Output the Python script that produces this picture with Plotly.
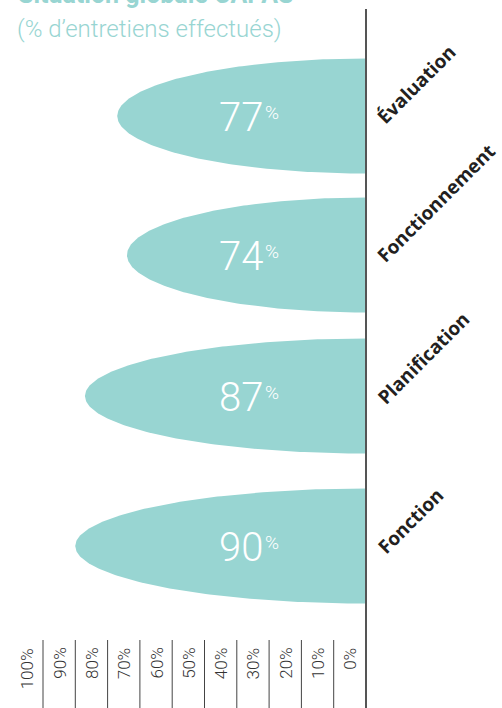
import numpy as np
import plotly.graph_objects as go

categories = ["Évaluation", "Fonctionnement", "Planification", "Fonction"]
values = [77, 74, 87, 90]
tick_values = [100, 90, 80, 70, 60, 50, 40, 30, 20, 10, 0]
tick_labels = ["100%", "90%", "80%", "70%", "60%", "50%", "40%", "30%", "20%", "10%", "0%"]
title_text = "Situation globale CAPAS"
subtitle_text = "(% d’entretiens effectués)"

W, H = 502, 708
TEAL = "#98d5d2"
X0_PX = 366.0          # pixel of 0 %
PX_PER_PCT = 3.23
ROW_CENTERS = [116.0, 255.0, 396.0, 546.0]   # layout: vertical centre of each row (px)
HALF_H = 57.5

xr = [X0_PX / PX_PER_PCT, -(W - X0_PX) / PX_PER_PCT]

fig = go.Figure()
t = np.linspace(-np.pi / 2, np.pi / 2, 200)
for i, (cat, v) in enumerate(zip(categories, values)):
    c = ROW_CENTERS[i]
    xs = list(v * np.cos(t)) + [0]
    ys = list(c + HALF_H * np.sin(t)) + [c - HALF_H]
    fig.add_trace(go.Scatter(x=xs, y=ys, mode="lines", fill="toself",
                             fillcolor=TEAL, line=dict(width=0, color=TEAL),
                             hoverinfo="skip", showlegend=False))

annotations = []
shapes = []
# axis line
shapes.append(dict(type="line", xref="x", yref="y", x0=0, x1=0, y0=9, y1=H,
                   line=dict(color="#555555", width=2)))
# separators
for tv in tick_values:
    if tv != 0:
        shapes.append(dict(type="line", xref="x", yref="y", x0=tv, x1=tv, y0=640, y1=H,
                           line=dict(color="#444444", width=1)))
# tick labels
for tv, tl in zip(tick_values, tick_labels):
    annotations.append(dict(x=tv + 5, y=646, xref="x", yref="y", text=tl, showarrow=False,
                            textangle=-90, xanchor="center", yanchor="top",
                            font=dict(family="Roboto", size=17, color="#333333", weight=300)))

for i, (cat, v) in enumerate(zip(categories, values)):
    c = ROW_CENTERS[i]
    annotations.append(dict(x=265 / W, y=c + 1, xref="paper", yref="y", text=str(v),
                            showarrow=False, xanchor="right", yanchor="middle",
                            font=dict(family="Roboto", size=40, color="white", weight=300)))
    annotations.append(dict(x=263 / W, y=c - 17, xref="paper", yref="y", text="%",
                            showarrow=False, xanchor="left", yanchor="top",
                            font=dict(family="Roboto", size=19, color="white", weight=300)))
    annotations.append(dict(x=369 / W, y=c + 16, xref="paper", yref="y", text=cat,
                            showarrow=False, textangle=-45, xanchor="left", yanchor="bottom",
                            font=dict(family="Open Sans", size=19, color="#231f20", weight="bold")))

annotations.append(dict(x=16 / W, y=1 - 11 / H, xref="paper", yref="paper", text=title_text,
                        showarrow=False, xanchor="left", yanchor="bottom",
                        font=dict(family="Roboto", size=25, color=TEAL, weight="bold")))
annotations.append(dict(x=15 / W, y=1 - 13 / H, xref="paper", yref="paper", text=subtitle_text,
                        showarrow=False, xanchor="left", yanchor="top",
                        font=dict(family="Roboto", size=24, color=TEAL, weight=300)))

fig.update_layout(
    width=W, height=H, margin=dict(l=0, r=0, t=0, b=0),
    paper_bgcolor="white", plot_bgcolor="white",
    xaxis=dict(range=xr, visible=False, fixedrange=True),
    yaxis=dict(range=[H, 0], visible=False, fixedrange=True),
    shapes=shapes, annotations=annotations, showlegend=False,
)
fig.write_html("out.html", config={"displayModeBar": False})
